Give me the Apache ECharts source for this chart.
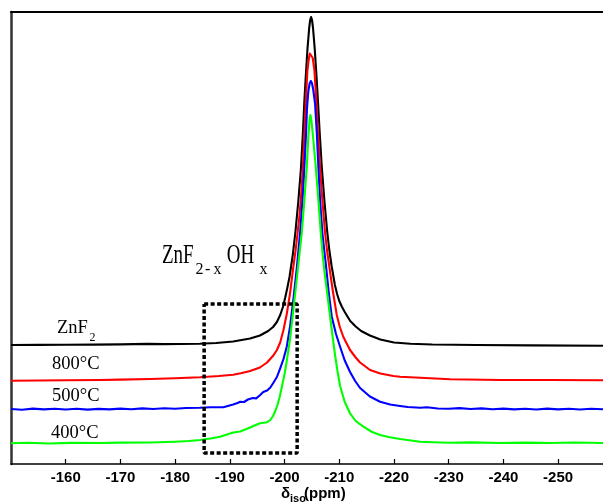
<!DOCTYPE html>
<html>
<head>
<meta charset="utf-8">
<script src="https://cdn.jsdelivr.net/npm/echarts@6/dist/echarts.min.js"></script>
<style>html,body{margin:0;padding:0;background:#fff}#c{width:603px;height:502px}</style>
</head>
<body>
<div id="c"></div>
<script>
// x: chemical shift (ppm), y: intensity (arb. units, stacked with offsets as in the figure)
const xTicks = [-160, -170, -180, -190, -200, -210, -220, -230, -240, -250];
const xRange = [-258.2, -150];
const yRange = [0, 452];

const seriesNames = ['ZnF2', '800°C', '500°C', '400°C'];

const zincF2 = [
  [-150, 119], [-155, 119.1], [-160, 119.3], [-165, 119.4], [-170, 119.6], [-175, 120.1],
  [-178, 119.9], [-181, 120], [-184.5, 120.3], [-187.5, 121], [-190.6, 122.5], [-193.7, 125.5],
  [-195.5, 128.5], [-197, 133], [-197.9, 137], [-198.6, 142], [-199.2, 149], [-199.7, 157],
  [-200.1, 166], [-200.5, 176], [-200.9, 187], [-201.5, 209], [-202.0, 233], [-202.5, 262],
  [-203.0, 296], [-203.35, 331], [-203.62, 363], [-203.9, 390], [-204.2, 416], [-204.5, 436],
  [-204.68, 444], [-204.85, 447], [-205.02, 444], [-205.2, 436], [-205.5, 416], [-205.8, 391],
  [-206.1, 363], [-206.4, 333], [-206.8, 297], [-207.3, 262], [-207.8, 232], [-208.2, 213],
  [-208.6, 198], [-209.2, 179], [-209.6, 170], [-210.0, 163], [-210.5, 157], [-211, 152],
  [-212, 143], [-213, 137.5], [-214, 133], [-215.6, 128.5], [-217.5, 124.5], [-220, 121.5],
  [-223, 120.3], [-227, 119.5], [-235, 119], [-245, 118.6], [-258.2, 118.3]
];

const t800 = [
  [-150, 83.3], [-155, 83.5], [-160, 83.7], [-166.3, 84], [-170, 84.4], [-175.4, 85],
  [-180, 85.8], [-184.55, 86.7], [-188, 88], [-190.6, 89.3], [-192, 90.8], [-193.7, 93],
  [-195.5, 96.5], [-196.8, 101.5], [-197.9, 108.2], [-198.6, 114], [-199.2, 121.5],
  [-199.8, 134], [-200.4, 150], [-201.0, 170.7], [-201.55, 195], [-202.0, 213], [-202.34, 229],
  [-202.7, 247], [-202.96, 264], [-203.2, 283], [-203.45, 309], [-203.65, 334], [-203.9, 364],
  [-204.17, 393], [-204.45, 406], [-204.62, 410.5], [-204.79, 412.3], [-204.96, 410.5],
  [-205.15, 406], [-205.45, 394], [-205.8, 364], [-206.08, 334], [-206.49, 297], [-206.91, 264],
  [-207.4, 231], [-207.8, 212], [-208.19, 197], [-208.5, 185], [-208.85, 172], [-209.54, 149],
  [-210.1, 137], [-210.75, 127], [-211.4, 120], [-211.97, 114], [-213, 106.5], [-213.8, 101.5],
  [-215.63, 94], [-217.5, 90.5], [-219.9, 88], [-221.1, 87.3], [-224.8, 86.2], [-230.3, 84.7],
  [-239.4, 84], [-248.5, 84], [-258.2, 83.7]
];

const t500 = [
  [-150, 55], [-152, 54.3], [-154, 55.4], [-156, 54.6], [-158, 55.3], [-160, 54.5],
  [-162, 55.2], [-164, 54.4], [-166, 55.1], [-168, 54.6], [-170, 55.4], [-172, 54.8],
  [-174, 55.6], [-176, 55], [-178, 55.8], [-180, 55.2], [-182, 56], [-184.5, 56.3],
  [-186.5, 56.8], [-188.8, 56.7], [-190.6, 59.5], [-191.4, 61], [-191.9, 62.3], [-192.6, 62],
  [-193.3, 64.5], [-194.2, 66], [-194.8, 65.6], [-195.5, 68.8], [-196.1, 72], [-196.8, 73.5],
  [-197.4, 76.5], [-197.9, 80.7], [-198.6, 87], [-199.2, 95.7], [-199.8, 105], [-200.4, 117.3],
  [-201.0, 137.3], [-201.6, 164], [-202.23, 195.7], [-202.83, 231], [-203.33, 268],
  [-203.62, 297.3], [-203.93, 331], [-204.1, 356], [-204.35, 373], [-204.58, 380.5],
  [-204.8, 383], [-205.02, 380.5], [-205.25, 374], [-205.58, 360], [-205.89, 331],
  [-206.18, 297.3], [-206.49, 264], [-206.91, 231], [-207.59, 197.3], [-208.1, 170],
  [-208.63, 147.3], [-209.4, 130], [-210.15, 117.3], [-211, 103.5], [-211.97, 92], [-212.9, 83],
  [-213.8, 76], [-215.6, 67.5], [-217.46, 62.3], [-219.3, 59.5], [-221.1, 58], [-222.5, 57],
  [-224.8, 56.3], [-226, 56.8], [-228, 55.5], [-230, 55.2], [-232, 55.9], [-234, 55],
  [-236, 55.6], [-238, 54.7], [-240, 55.4], [-242, 54.6], [-244, 55.3], [-246, 54.5],
  [-248, 55.4], [-250, 54.6], [-252, 55.3], [-254, 54.5], [-256, 55.2], [-258.2, 54.7]
];

const t400 = [
  [-150, 20.7], [-153, 21.2], [-157, 20.5], [-161, 21.1], [-166.3, 21], [-170, 21.4],
  [-175.4, 21.5], [-180, 22.3], [-182.5, 23], [-184.55, 24], [-186.5, 25.5], [-188.2, 27.3],
  [-189.5, 29.5], [-190.6, 31.5], [-191.9, 32.5], [-192.8, 34.5], [-193.7, 36.5], [-194.6, 38.8],
  [-195.5, 40.7], [-196.2, 41.2], [-196.8, 41.8], [-197.4, 44], [-197.9, 48], [-198.3, 53],
  [-198.7, 59], [-199.1, 67], [-199.5, 77], [-200.0, 90], [-200.4, 103], [-201.0, 125],
  [-201.6, 154], [-202.23, 185], [-202.6, 204], [-203.14, 231], [-203.62, 264], [-204.06, 297.3],
  [-204.35, 328], [-204.55, 343], [-204.72, 349], [-204.9, 344], [-205.16, 330], [-205.7, 297.3],
  [-206.18, 264], [-206.62, 231], [-206.95, 210], [-207.3, 192], [-207.7, 175], [-208.2, 153],
  [-208.7, 131], [-209.2, 110], [-209.7, 92], [-210.15, 78], [-211, 62], [-211.97, 50.7],
  [-213, 43], [-214.41, 37.3], [-216, 32], [-217.46, 29], [-219, 27], [-221.12, 25],
  [-224.77, 22.3], [-227, 21.8], [-230.3, 21.3], [-234, 21.6], [-239.4, 21], [-244, 21.4],
  [-248.5, 21], [-253, 21.5], [-258.2, 21]
];

// dashed rectangle marking the shoulder region (ppm, intensity)
const boxX = [-185.3, -202.3];
const boxY = [11, 160];

const colors = ['#000000', '#ff0000', '#0000ff', '#00ff00'];
const datasets = [zincF2, t800, t500, t400];

const chart = echarts.init(document.getElementById('c'), null, {renderer: 'canvas'});

const lineSeries = datasets.map((d, i) => ({
  name: seriesNames[i],
  type: 'line',
  data: d,
  showSymbol: false,
  smooth: false,
  clip: true,
  lineStyle: {color: colors[i], width: 2.1, join: 'round'},
  z: 3
}));

const boxData = [
  [boxX[0], boxY[1]], [boxX[1], boxY[1]], [boxX[1], boxY[0]], [boxX[0], boxY[0]], [boxX[0], boxY[1]]
];

const serif = '"Liberation Serif", "Times New Roman", serif';
const sans = '"Liberation Sans", Arial, sans-serif';

function txt(text, x, y, size, family, weight) {
  return {
    type: 'text', x: x, y: y,
    style: {
      text: text, fill: '#000',
      font: (weight || 'normal') + ' ' + size + 'px ' + family,
      align: 'left', verticalAlign: 'middle'
    }
  };
}

chart.setOption({
  animation: false,
  backgroundColor: '#fff',
  grid: {left: 11, right: 0, top: 12, bottom: 38, containLabel: false},
  xAxis: [{
    type: 'value', min: xRange[0], max: xRange[1], inverse: true, position: 'bottom',
    axisLine: {show: true, onZero: false, lineStyle: {color: '#000', width: 1.5}},
    axisTick: {show: true, inside: true, length: 5, lineStyle: {color: '#000', width: 1.2}, customValues: xTicks},
    axisLabel: {show: true, customValues: xTicks, margin: 6, color: '#000', fontFamily: sans, fontWeight: 'bold', fontSize: 15},
    splitLine: {show: false}
  }, {
    type: 'value', min: xRange[0], max: xRange[1], inverse: true, position: 'top',
    axisLine: {show: true, onZero: false, lineStyle: {color: '#000', width: 2}},
    axisTick: {show: false}, axisLabel: {show: false}, splitLine: {show: false}
  }],
  yAxis: {
    type: 'value', min: yRange[0], max: yRange[1],
    axisLine: {show: true, onZero: false, lineStyle: {color: '#333', width: 2.5}},
    axisTick: {show: false}, axisLabel: {show: false}, splitLine: {show: false}
  },
  series: lineSeries.concat([{
    name: 'box', type: 'line', data: boxData, showSymbol: false, clip: false,
    lineStyle: {color: '#000', width: 3.5, type: [4, 2.5]}, z: 4
  }]),
  graphic: [
    txt('ZnF', 57, 327.7, 18.5, serif),
    txt('2', 89.5, 338, 12, serif),
    txt('800°C', 52, 364.5, 18.5, serif),
    txt('500°C', 52, 396.5, 18.5, serif),
    txt('400°C', 51, 433, 18.5, serif),
    {
      type: 'group', x: 162, y: 265, scaleY: 1.4,
      children: [
        txt('ZnF', 0, -6.5, 19, serif),
        txt('OH', 64.7, -6.5, 19, serif)
      ]
    },
    txt('2', 195.5, 270, 16, serif),
    txt('-', 205, 270, 16, serif),
    txt('x', 213.5, 270, 16, serif),
    txt('x', 259.5, 270, 16, serif),
    txt('δ', 281, 493.5, 15, sans, 'bold'),
    txt('iso', 290, 499, 11, sans, 'bold'),
    txt('(ppm)', 304, 493.5, 15, sans, 'bold')
  ]
});
</script>
</body>
</html>
